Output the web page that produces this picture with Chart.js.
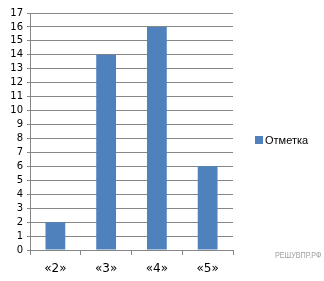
<!DOCTYPE html>
<html><head><meta charset="utf-8">
<script src="https://cdn.jsdelivr.net/npm/chart.js@4"></script>
<style>
html,body{margin:0;padding:0;background:#fff;}
#wrap{position:relative;width:324px;height:281px;}
#legend{position:absolute;left:255px;top:134px;font:11px "Liberation Sans",Arial,sans-serif;color:#000;white-space:nowrap;}
#legend span.box{display:inline-block;width:8px;height:8px;background:#4F81BD;margin-right:2px;vertical-align:0px;}
#wm{position:absolute;left:275px;top:250px;font:9px "Liberation Sans",Arial,sans-serif;color:#a0a0a0;transform:scaleX(0.8);transform-origin:0 0;white-space:nowrap;}
</style></head>
<body><div id="wrap"><canvas id="c" width="324" height="281"></canvas>
<div id="legend"><span class="box"></span>Отметка</div>
<div id="wm">РЕШУВПР.РФ</div></div>
<script>
const categories = ["«2»", "«3»", "«4»", "«5»"];
const seriesName = "Отметка";
const values = [2, 14, 16, 6];
const yTicks = [0,1,2,3,4,5,6,7,8,9,10,11,12,13,14,15,16,17];

new Chart(document.getElementById('c'), {
  type: 'bar',
  data: { labels: categories, datasets: [{ label: seriesName, data: values, backgroundColor: '#4F81BD', barPercentage: 0.78, categoryPercentage: 0.5 }] },
  options: {
    responsive: false, animation: false,
    layout: { padding: { top: 13, right: 91, left: 0, bottom: 0 } },
    plugins: { legend: { display: false }, tooltip: { enabled: false } },
    scales: {
      x: {
        grid: { offset: true, drawOnChartArea: false, color: '#868686', tickLength: 5 },
        border: { color: '#868686' },
        ticks: { color: '#000', font: { family: 'DejaVu Sans', size: 12 }, padding: 7 },
        afterFit: s => { s.height = 31; }
      },
      y: {
        min: 0, max: 17,
        grid: { color: '#868686', tickLength: 3 },
        border: { color: '#868686' },
        afterBuildTicks: s => { s.ticks = yTicks.map(v => ({ value: v })); },
        ticks: { color: '#000', autoSkip: false, font: { family: 'DejaVu Sans', size: 10 }, padding: 4 },
        afterFit: s => { s.width = 30; }
      }
    }
  }
});
</script></body></html>
